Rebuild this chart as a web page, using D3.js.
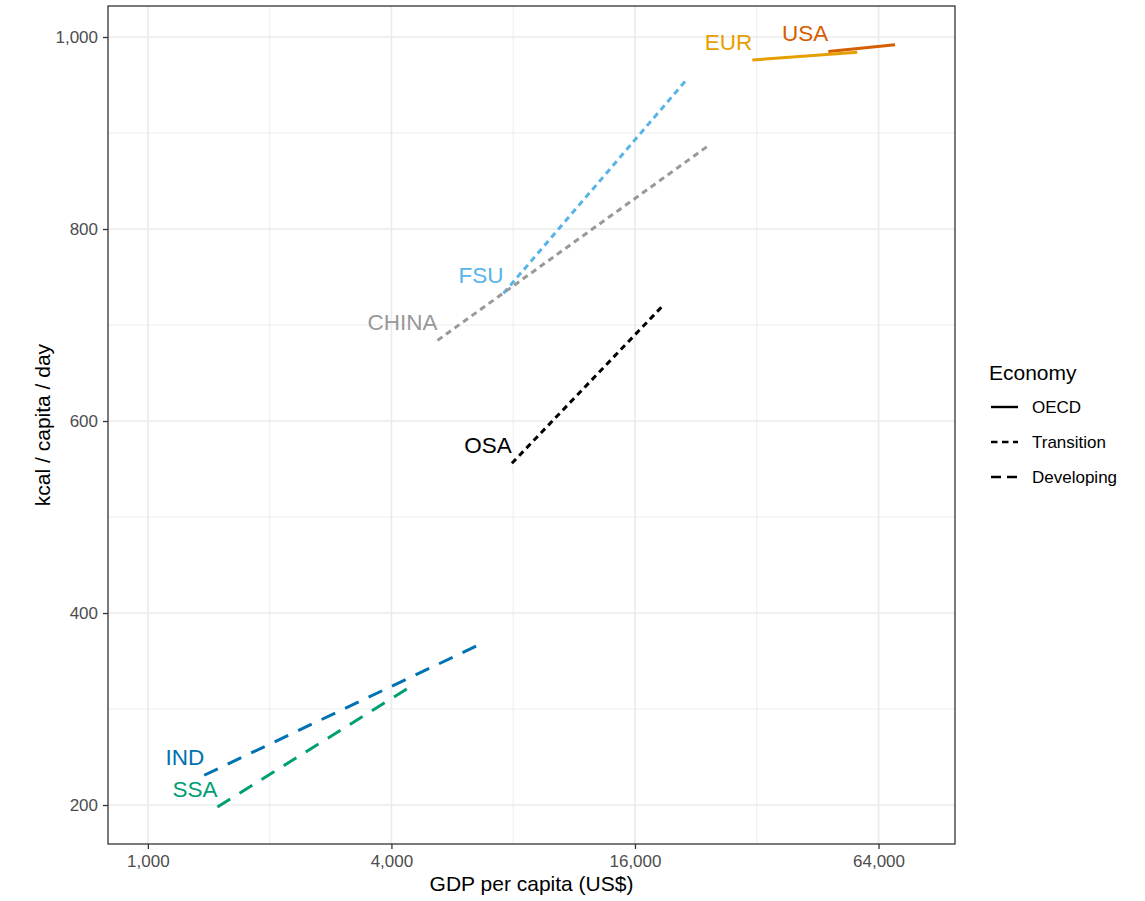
<!DOCTYPE html>
<html>
<head>
  <meta charset="utf-8">
  <title>kcal-gdp</title>
  <style>
    body { margin: 0; background: #fff; }
    text { font-family: Arial, "Liberation Sans", sans-serif; }
    .tick text { fill: #4D4D4D; font-size: 17px; }
    .tick line { stroke: #333; }
    .domain { display: none; }
  </style>
  <script src="https://cdn.jsdelivr.net/npm/d3@7"></script>
</head>
<body>
<script>

  // data: start and end point of each region's line
  var regions   = ["USA", "EUR", "FSU", "CHINA", "OSA", "IND", "SSA"];
  var economy   = ["OECD", "OECD", "Transition", "Transition", "Transition", "Developing", "Developing"];
  var gdpStart  = [48100, 31200, 7570, 5200, 7940, 1378, 1486];
  var gdpEnd    = [70300, 56700, 21400, 24150, 18640, 6590, 4450];
  var kcalStart = [985, 976, 733, 684, 556, 231, 198];
  var kcalEnd   = [992, 984, 955, 886, 719, 367, 323];

  var economies = ["OECD", "Transition", "Developing"];
  var xTicks = [1000, 4000, 16000, 64000];
  var xMinor = [2000, 8000, 32000];
  var yTicks = [200, 400, 600, 800, 1000];
  var yMinor = [300, 500, 700, 900];

  var colour = {USA: "#D55E00", EUR: "#E69F00", FSU: "#56B4E9", CHINA: "#999999",
                OSA: "#000000", IND: "#0072B2", SSA: "#009E73"};
  var dash = {OECD: null, Transition: "6,4.5", Developing: "15,11"};
  var keyDash = {OECD: null, Transition: "6.5,4.5", Developing: "10,6"};

  var margin = {top: 6, left: 108};
  var width = 847, height = 838;

  var svg = d3.select("body").append("svg")
    .attr("width", 1145)
    .attr("height", 901);

  svg.append("rect").attr("width", 1145).attr("height", 901).attr("fill", "#fff");

  var g = svg.append("g")
    .attr("transform", "translate(" + margin.left + "," + margin.top + ")");

  var x = d3.scaleLog().base(2).domain([797, 98900]).range([0, width]);
  var y = d3.scaleLinear().domain([159.4, 1032.3]).range([height, 0]);

  // grid
  g.selectAll(".gxm").data(xMinor).enter().append("line")
    .attr("x1", d => x(d)).attr("x2", d => x(d)).attr("y1", 0).attr("y2", height)
    .attr("stroke", "#EBEBEB").attr("stroke-width", 0.9);
  g.selectAll(".gym").data(yMinor).enter().append("line")
    .attr("y1", d => y(d)).attr("y2", d => y(d)).attr("x1", 0).attr("x2", width)
    .attr("stroke", "#EBEBEB").attr("stroke-width", 0.9);
  g.selectAll(".gx").data(xTicks).enter().append("line")
    .attr("x1", d => x(d)).attr("x2", d => x(d)).attr("y1", 0).attr("y2", height)
    .attr("stroke", "#EBEBEB").attr("stroke-width", 1.7);
  g.selectAll(".gy").data(yTicks).enter().append("line")
    .attr("y1", d => y(d)).attr("y2", d => y(d)).attr("x1", 0).attr("x2", width)
    .attr("stroke", "#EBEBEB").attr("stroke-width", 1.7);

  // axes
  var fmt = d3.format(",");
  g.append("g")
    .attr("transform", "translate(0," + height + ")")
    .call(d3.axisBottom(x).tickValues(xTicks).tickFormat(fmt).tickSize(5).tickPadding(6))
    .selectAll("line").attr("stroke-width", 1.3);
  g.append("g")
    .call(d3.axisLeft(y).tickValues(yTicks).tickFormat(fmt).tickSize(5).tickPadding(5))
    .selectAll("line").attr("stroke-width", 1.3);

  // lines
  var segs = regions.map(function(r, i) {
    return {region: r, economy: economy[i], x0: gdpStart[i], x1: gdpEnd[i], y0: kcalStart[i], y1: kcalEnd[i]};
  });

  g.selectAll(".seg").data(segs).enter().append("line")
    .attr("class", "seg")
    .attr("x1", d => x(d.x0)).attr("y1", d => y(d.y0))
    .attr("x2", d => x(d.x1)).attr("y2", d => y(d.y1))
    .attr("stroke", d => colour[d.region])
    .attr("stroke-width", 3)
    .attr("stroke-dasharray", d => dash[d.economy]);

  g.selectAll(".lab").data(segs).enter().append("text")
    .attr("x", d => x(d.x0)).attr("y", d => y(d.y0) - 10)
    .attr("text-anchor", "end")
    .style("font-size", "22.5px")
    .attr("fill", d => colour[d.region])
    .text(d => d.region);

  // panel border
  g.append("rect").attr("width", width).attr("height", height)
    .attr("fill", "none").attr("stroke", "#333").attr("stroke-width", 1.3);

  // axis titles
  svg.append("text")
    .attr("x", margin.left + width / 2).attr("y", 891)
    .attr("text-anchor", "middle").style("font-size", "21px")
    .text("GDP per capita (US$)");
  svg.append("text")
    .attr("transform", "translate(50," + (margin.top + height / 2) + ") rotate(-90)")
    .attr("text-anchor", "middle").style("font-size", "21px")
    .text("kcal / capita / day");

  // legend
  var legend = svg.append("g").attr("transform", "translate(989,0)");
  legend.append("text").attr("x", 0).attr("y", 380).style("font-size", "21px").text("Economy");
  var keys = legend.selectAll(".key").data(economies).enter().append("g")
    .attr("transform", (d, i) => "translate(0," + (407 + i * 35) + ")");
  keys.append("line").attr("x1", 2).attr("x2", 29).attr("y1", 0).attr("y2", 0)
    .attr("stroke", "#000").attr("stroke-width", 2.4)
    .attr("stroke-dasharray", d => keyDash[d]);
  keys.append("text").attr("x", 43).attr("y", 6).style("font-size", "17px").text(d => d);

</script>
</body>
</html>
